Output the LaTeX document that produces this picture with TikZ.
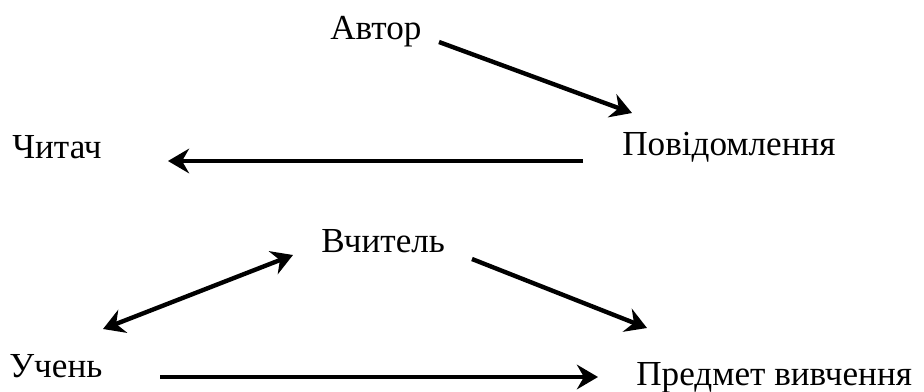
\documentclass[tikz,border=0pt]{standalone}
\usepackage{fontspec}
\setmainfont{Liberation Serif}
\usepackage{tikz}
\usetikzlibrary{arrows.meta}
\tikzset{>={Stealth[length=12pt,width=14pt,inset=4pt]}}
\tikzset{%
    word/.style={anchor=base west,inner sep=0pt,font=\fontsize{20}{24}\selectfont},
    link/.style={->,line width=2.5pt}
}
\begin{document}
\begin{tikzpicture}[x=0.02cm,y=-0.02cm]
    \useasboundingbox (0,0) rectangle (924,392);

    \node[word] (avtor) at (330,39) {Автор};
    \node[word] (povid) at (622,155) {Повідомлення};
    \node[word] (chytach) at (12,158) {Читач};
    \node[word] (vchytel) at (321,252) {Вчитель};
    \node[word] (uchen) at (9,377) {Учень};
    \node[word] (predmet) at (636,385) {Предмет вивчення};

    % ends of the arrows
    \coordinate (a1) at (439,42);
    \coordinate (a2) at (632,113);
    \coordinate (b1) at (583,161);
    \coordinate (b2) at (168,161);
    \coordinate (c1) at (293,255);
    \coordinate (c2) at (103,329);
    \coordinate (d1) at (472,259);
    \coordinate (d2) at (647,328);
    \coordinate (e1) at (160,377);
    \coordinate (e2) at (598,377);

	\draw[link] (a1) -- (a2);
	\draw[link] (b1) -- (b2);
	\draw[link,<->] (c1) -- (c2);
	\draw[link] (d1) -- (d2);
	\draw[link] (e1) -- (e2);
\end{tikzpicture}
\end{document}
